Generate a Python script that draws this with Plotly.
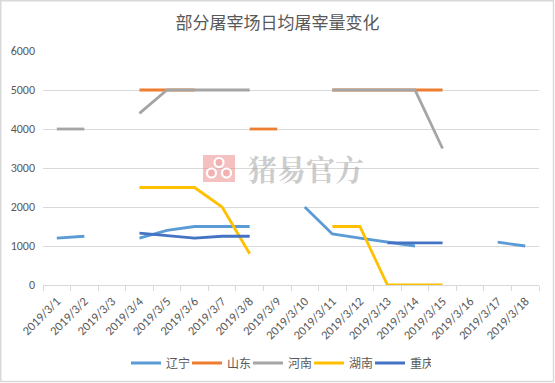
import plotly.graph_objects as go

categories = ["2019/3/1", "2019/3/2", "2019/3/3", "2019/3/4", "2019/3/5", "2019/3/6",
              "2019/3/7", "2019/3/8", "2019/3/9", "2019/3/10", "2019/3/11", "2019/3/12",
              "2019/3/13", "2019/3/14", "2019/3/15", "2019/3/16", "2019/3/17", "2019/3/18"]

liaoning = [1200, 1250, None, 1200, 1400, 1500, 1500, 1500, None, 2000, 1310, 1200,
            1100, 1000, None, None, 1100, 1000]
shandong = [None, None, None, 5000, 5000, 5000, None, 4000, 4000, None, 5000, 5000,
            5000, 5000, 5000, None, None, None]
henan = [4000, 4000, None, 4400, 5000, 5000, 5000, 5000, None, None, 5000, 5000,
         5000, 5000, 3500, None, None, None]
hunan = [None, None, None, 2500, 2500, 2500, 2000, 800, None, None, 1500, 1500,
         0, 0, 0, None, None, None]
chongqing = [None, None, None, 1330, 1270, 1200, 1250, 1250, None, None, None, None,
             1080, 1080, 1080, None, None, None]

series_names = ["辽宁", "山东", "河南", "湖南", "重庆"]
series_values = [liaoning, shandong, henan, hunan, chongqing]
series_colors = ["#5B9BD5", "#ED7D31", "#A5A5A5", "#FFC000", "#4472C4"]
y_ticks = [0, 1000, 2000, 3000, 4000, 5000, 6000]

W, H = 555, 383
L, R, T, B = 43, 539, 51, 285

def px_x(p):
    return (p - L) / (R - L)

def px_y(p):
    return (B - p) / (B - T)

fig = go.Figure()
for name, vals, col in zip(series_names, series_values, series_colors):
    fig.add_trace(go.Scatter(x=categories, y=vals, name=name, mode="lines",
                             line=dict(color=col, width=2.8), connectgaps=False))

num_font = "Calibri, Carlito, 'Liberation Sans', Arial, sans-serif"
cjk_font = "'Microsoft YaHei', 'Noto Sans CJK SC', sans-serif"

shapes = [
    dict(type="rect", xref="paper", yref="paper",
         x0=px_x(0.75), x1=px_x(553.5), y0=px_y(381.5), y1=px_y(0.75),
         line=dict(color="#D9D9D9", width=1.5), fillcolor="rgba(0,0,0,0)", layer="below"),
    dict(type="rect", xref="paper", yref="paper",
         x0=px_x(203), x1=px_x(235), y0=px_y(182), y1=px_y(155),
         line=dict(width=0), fillcolor="rgba(236,140,140,0.55)", layer="above"),
]
for cx, cy, r in [(219, 162.5, 4.5), (211.5, 173, 4.5), (226.5, 173, 4.5)]:
    shapes.append(dict(type="circle", xref="paper", yref="paper",
                       x0=px_x(cx - r), x1=px_x(cx + r), y0=px_y(cy + r), y1=px_y(cy - r),
                       line=dict(color="white", width=2.2), fillcolor="rgba(236,140,140,0.3)",
                       layer="above"))

fig.update_layout(
    width=W, height=H,
    margin=dict(l=L, r=W - R, t=T, b=H - B, pad=0, autoexpand=False),
    paper_bgcolor="white", plot_bgcolor="white",
    title=dict(text="部分屠宰场日均屠宰量变化", x=0.5, xref="container", xanchor="center",
               y=1 - 23 / H, yref="container", yanchor="middle", automargin=False,
               font=dict(family=cjk_font, size=17, color="#595959")),
    xaxis=dict(type="category", tickangle=-45, showgrid=False, showline=True,
               linecolor="#D9D9D9", linewidth=1, ticks="outside", tickson="boundaries",
               ticklen=5, tickcolor="#D9D9D9", automargin=False, ticklabelstandoff=3,
               tickfont=dict(family=num_font, size=12.5, color="#595959"),
               range=[-0.5, 17.5], fixedrange=True),
    yaxis=dict(range=[0, 6000], tickvals=y_ticks, showgrid=True, gridcolor="#D9D9D9",
               gridwidth=1, zeroline=False, showline=False, ticks="", automargin=False,
               ticklabelstandoff=7, fixedrange=True,
               tickfont=dict(family=num_font, size=12, color="#595959")),
    legend=dict(orientation="h", x=px_x(126), xanchor="left", y=px_y(363), yanchor="middle",
                font=dict(family=cjk_font, size=12, color="#595959"),
                entrywidth=16, entrywidthmode="pixels", bgcolor="rgba(0,0,0,0)",
                itemclick=False),
    shapes=shapes,
    annotations=[dict(text="<b>猪易官方</b>", xref="paper", yref="paper",
                      x=px_x(306), y=px_y(168), xanchor="center", yanchor="middle",
                      showarrow=False,
                      font=dict(family="'Noto Serif CJK SC', 'Noto Sans CJK SC', serif",
                                size=29, color="rgba(160,160,160,0.55)"))],
)

fig.write_html("out.html", config={"displayModeBar": False},
               post_script="document.body.style.margin='0';document.body.style.padding='0';")
